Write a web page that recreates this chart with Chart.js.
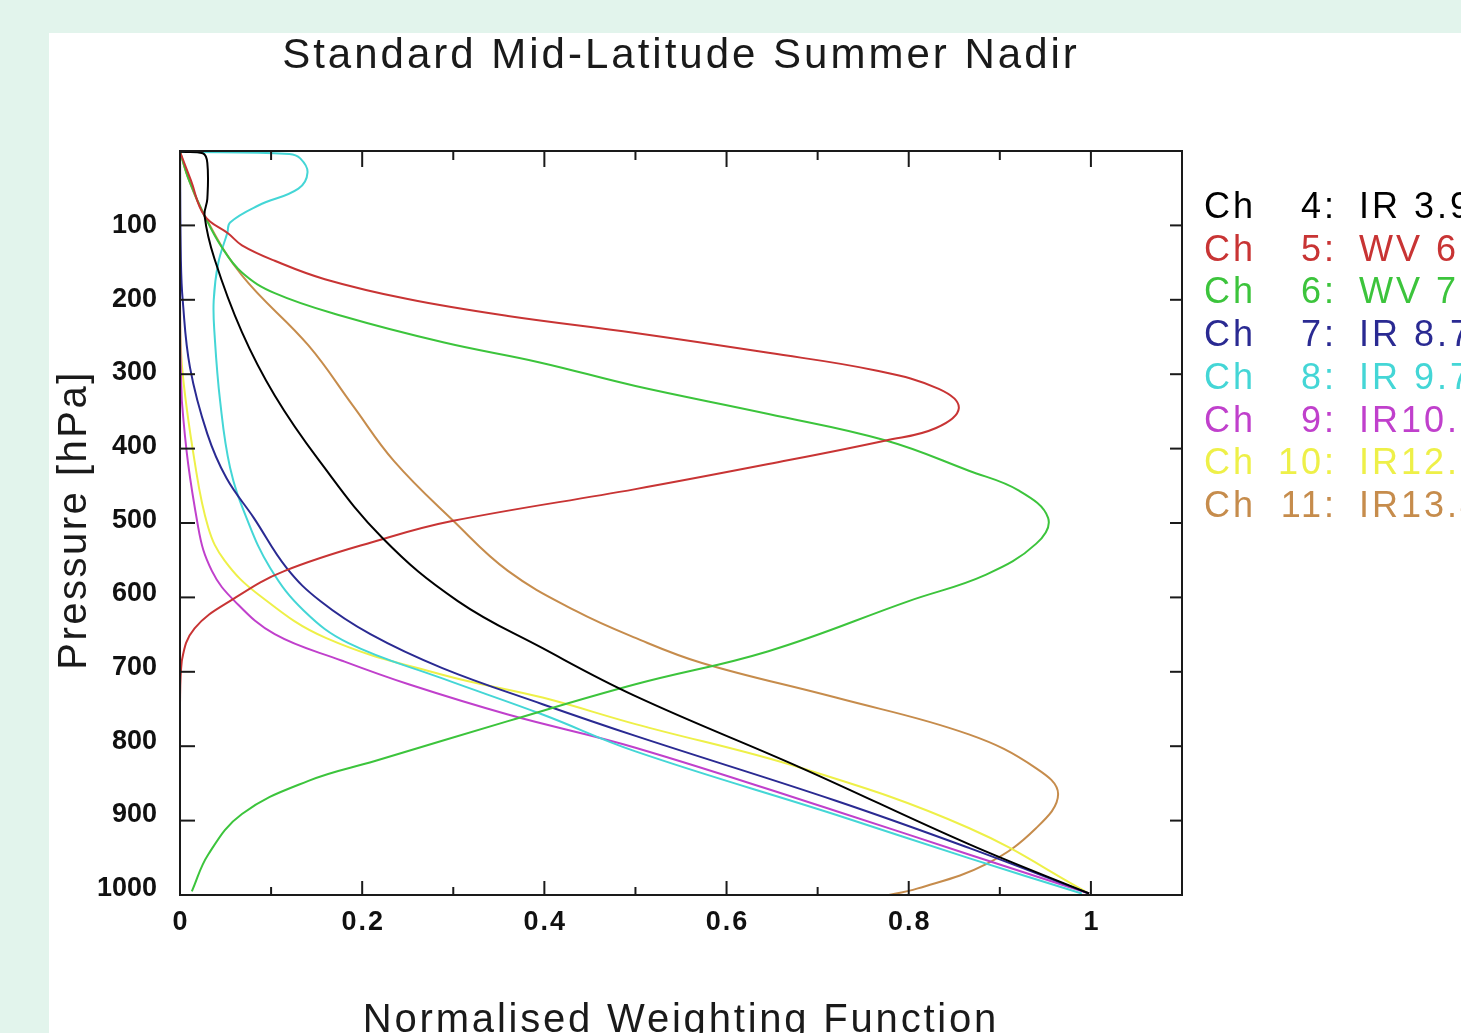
<!DOCTYPE html>
<html><head><meta charset="utf-8">
<script src="https://cdn.jsdelivr.net/npm/chart.js@4/dist/chart.umd.min.js"></script>
<style>
html,body{margin:0;padding:0;background:#e2f4ec;width:1461px;height:1033px;overflow:hidden}
#c{position:absolute;left:49px;top:33px;background:#ffffff}
</style></head><body>
<canvas id="c" width="1412" height="1000"></canvas>
<script>
// ---- texts ----
const chartTitle = 'Standard Mid-Latitude Summer Nadir';
const xTitle = 'Normalised Weighting Function';
const yTitle = 'Pressure [hPa]';

// ---- legend / channels ----
const channelNumbers = ['4', '5', '6', '7', '8', '9', '10', '11'];
const channelBands = ['IR 3.9', 'WV 6.2', 'WV 7.3', 'IR 8.7', 'IR 9.7', 'IR10.8', 'IR12.0', 'IR13.4'];
const channelColors = ['#000000', '#c83434', '#3cc43c', '#2a2a92', '#44d6d6', '#c040cc', '#eef048', '#c68c4c'];

// ---- tick labels ----
const xTickValues = [0, 0.2, 0.4, 0.6, 0.8, 1];
const xTickLabels = ['0', '0.2', '0.4', '0.6', '0.8', '1'];
const yTickValues = [100, 200, 300, 400, 500, 600, 700, 800, 900, 1000];
const yTickLabels = ['100', '200', '300', '400', '500', '600', '700', '800', '900', '1000'];

// ---- series: pressure (hPa) and normalised weight ----
const pressureCh4 = [1, 3, 16, 65, 88, 147, 246, 332, 419, 525, 611, 675, 740, 838, 941, 1008];
const weightCh4   = [0, 0.025, 0.03, 0.03, 0.027, 0.038, 0.068, 0.104, 0.152, 0.222, 0.305, 0.398, 0.50, 0.683, 0.866, 0.998];

const pressureCh5 = [1, 40, 88, 112, 128, 149, 174, 201, 224, 247, 274, 298, 323, 349, 376, 393, 425, 459, 502, 527, 570, 607, 648, 692, 750, 850, 1010];
const weightCh5   = [0, 0.012, 0.027, 0.053, 0.068, 0.104, 0.159, 0.25, 0.36, 0.50, 0.646, 0.764, 0.833, 0.855, 0.83, 0.775, 0.646, 0.50, 0.30, 0.222, 0.115, 0.06, 0.016, 0.002, 0, 0, 0];

const pressureCh6 = [1, 40, 88, 129, 165, 193, 224, 260, 287, 319, 357, 393, 434, 461, 498, 533, 575, 611, 679, 724, 774, 828, 855, 900, 955, 1005];
const weightCh6   = [0, 0.01, 0.027, 0.045, 0.068, 0.104, 0.178, 0.29, 0.395, 0.50, 0.646, 0.775, 0.866, 0.921, 0.953, 0.94, 0.885, 0.80, 0.646, 0.50, 0.36, 0.214, 0.141, 0.068, 0.031, 0.013];

const pressureCh7 = [1, 150, 203, 294, 384, 444, 498, 566, 611, 656, 702, 751, 794, 882, 946, 1008];
const weightCh7   = [0, 0.001, 0.003, 0.011, 0.03, 0.051, 0.081, 0.117, 0.154, 0.209, 0.288, 0.398, 0.50, 0.72, 0.866, 0.998];

const pressureCh8 = [1, 4, 10, 29, 51, 74, 97, 111, 152, 203, 250, 339, 430, 498, 566, 624, 668, 716, 765, 815, 901, 960, 1008];
const weightCh8   = [0, 0.12, 0.132, 0.14, 0.13, 0.086, 0.055, 0.052, 0.042, 0.037, 0.038, 0.044, 0.055, 0.073, 0.099, 0.136, 0.185, 0.288, 0.398, 0.50, 0.72, 0.866, 0.99];

const pressureCh9 = [1, 200, 339, 511, 570, 611, 656, 692, 724, 765, 810, 896, 955, 1008];
const weightCh9   = [0, 0, 0.002, 0.02, 0.035, 0.06, 0.104, 0.178, 0.251, 0.36, 0.50, 0.72, 0.866, 0.998];

const pressureCh10 = [1, 200, 290, 421, 511, 556, 602, 661, 711, 742, 778, 838, 919, 1008];
const weightCh10   = [0, 0, 0.002, 0.016, 0.031, 0.049, 0.086, 0.16, 0.288, 0.398, 0.50, 0.683, 0.866, 0.998];

const pressureCh11 = [1, 40, 88, 169, 264, 346, 421, 502, 570, 624, 661, 695, 742, 792, 838, 873, 919, 968, 1001, 1012];
const weightCh11   = [0, 0.01, 0.027, 0.068, 0.141, 0.19, 0.235, 0.30, 0.36, 0.434, 0.50, 0.573, 0.72, 0.866, 0.94, 0.964, 0.94, 0.885, 0.81, 0.77];

const seriesPressure = [pressureCh4, pressureCh5, pressureCh6, pressureCh7, pressureCh8, pressureCh9, pressureCh10, pressureCh11];
const seriesWeight = [weightCh4, weightCh5, weightCh6, weightCh7, weightCh8, weightCh9, weightCh10, weightCh11];

const datasets = seriesPressure.map((ps, i) => ({
  label: 'Ch ' + channelNumbers[i] + ': ' + channelBands[i],
  data: ps.map((p, j) => ({ x: seriesWeight[i][j], y: p })),
  borderColor: channelColors[i],
  backgroundColor: channelColors[i],
  borderWidth: 2,
  pointRadius: 0,
  showLine: true,
  fill: false,
  tension: 0.4
}));

function spacedText(ctx, txt, x, y, spacing) {
  if ('letterSpacing' in ctx) { ctx.letterSpacing = spacing + 'px'; }
  ctx.fillText(txt, x, y);
  if ('letterSpacing' in ctx) { ctx.letterSpacing = '0px'; }
}

const decor = {
  id: 'decor',
  afterDatasetsDraw(chart) {
    const { ctx, chartArea: a, scales: { x, y } } = chart;
    ctx.save();
    ctx.strokeStyle = '#1a1a1a';
    ctx.lineWidth = 2;
    ctx.strokeRect(a.left, a.top, a.right - a.left, a.bottom - a.top);
    const seg = (x1, y1, x2, y2) => { ctx.beginPath(); ctx.moveTo(x1, y1); ctx.lineTo(x2, y2); ctx.stroke(); };
    x.ticks.forEach(t => {
      const k = Math.round(t.value * 10);
      const px = x.getPixelForValue(t.value);
      const major = k % 2 === 0;
      seg(px, a.bottom, px, a.bottom - (major ? 14 : 8));
      seg(px, a.top, px, a.top + (major ? 16 : 9));
    });
    y.ticks.forEach(t => {
      if (t.value <= 0) return;
      const py = y.getPixelForValue(t.value);
      seg(a.left, py, a.left + 15, py);
      seg(a.right, py, a.right - 12, py);
    });
    // tick labels, positioned through the scales
    ctx.fillStyle = '#111111';
    ctx.font = 'bold 27px "Liberation Sans", Arial, sans-serif';
    ctx.textBaseline = 'middle';
    ctx.textAlign = 'center';
    xTickValues.forEach((v, i) => {
      spacedText(ctx, xTickLabels[i], x.getPixelForValue(v) + 1, a.bottom + 28, 2);
    });
    ctx.textAlign = 'right';
    yTickValues.forEach((v, i) => {
      spacedText(ctx, yTickLabels[i], a.left - 23, y.getPixelForValue(v) + 1, 0);
    });
    ctx.restore();
  },
  afterDraw(chart) {
    const { ctx, chartArea: a } = chart;
    ctx.save();
    ctx.fillStyle = '#1a1a1a';
    ctx.textBaseline = 'alphabetic';
    // title
    ctx.font = '42px "Liberation Sans", Arial, sans-serif';
    ctx.textAlign = 'center';
    spacedText(ctx, chartTitle, (a.left + a.right) / 2, 35, 3);
    // x title
    ctx.font = '40px "Liberation Sans", Arial, sans-serif';
    spacedText(ctx, xTitle, (a.left + a.right) / 2, 999, 2.8);
    // y title
    ctx.save();
    ctx.translate(37, 487);
    ctx.rotate(-Math.PI / 2);
    ctx.font = '40px "Liberation Sans", Arial, sans-serif';
    spacedText(ctx, yTitle, 0, 0, 2.5);
    ctx.restore();
    // legend
    ctx.font = '36px "Liberation Sans", Arial, sans-serif';
    channelNumbers.forEach((n, i) => {
      const by = 185 + i * 42.7;
      ctx.fillStyle = channelColors[i];
      ctx.textAlign = 'left';
      spacedText(ctx, 'Ch', 1155, by, 3);
      ctx.textAlign = 'right';
      spacedText(ctx, n + ':', 1288, by, 3);
      ctx.textAlign = 'left';
      spacedText(ctx, channelBands[i], 1310, by, 3);
    });
    ctx.restore();
  }
};

new Chart(document.getElementById('c'), {
  type: 'scatter',
  data: { datasets },
  options: {
    responsive: false,
    animation: false,
    devicePixelRatio: 1,
    layout: { padding: { left: 0, top: 118, right: 279, bottom: 0 } },
    plugins: { legend: { display: false }, title: { display: false }, tooltip: { enabled: false } },
    events: [],
    scales: {
      x: {
        type: 'linear', position: 'bottom', min: 0, max: 1.1,
        grid: { display: false, drawTicks: false },
        border: { display: false },
        ticks: { display: false, stepSize: 0.1, autoSkip: false },
        afterFit: (s) => { s.height = 138; }
      },
      y: {
        type: 'linear', position: 'left', min: 0, max: 1010, reverse: true,
        grid: { display: false, drawTicks: false },
        border: { display: false },
        ticks: { display: false, stepSize: 100, autoSkip: false, includeBounds: false },
        afterFit: (s) => { s.width = 131; }
      }
    }
  },
  plugins: [decor]
});
</script>
</body></html>
